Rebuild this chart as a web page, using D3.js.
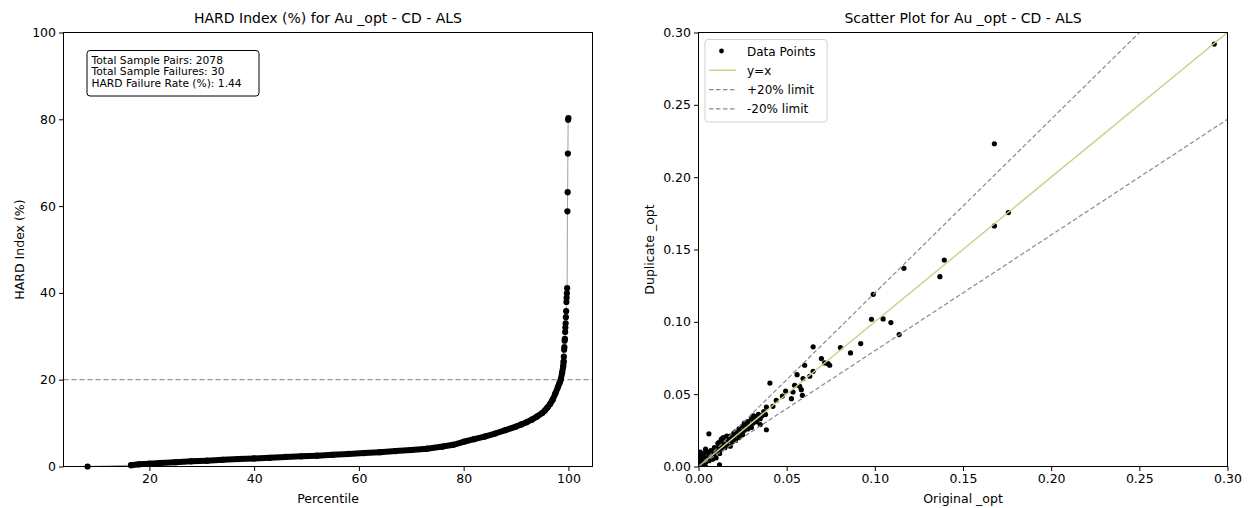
<!DOCTYPE html>
<html>
<head>
<meta charset="utf-8">
<title>HARD index and duplicate scatter</title>
<script src="https://cdn.jsdelivr.net/npm/d3@7"></script>
<style>
  html, body { margin:0; padding:0; background:#fff; overflow:hidden; }
  svg { font-family: "DejaVu Sans", sans-serif; }
</style>
</head>
<body>
<svg width="1258" height="508"></svg>
<script>
// ---- left panel: HARD index (%) against percentile
const zeroPct = [8.2];
const zeroHard = [0];
// dense sorted body of the curve
const bodyPct = [16.5, 18, 20, 22, 25, 28, 31, 34, 37, 40, 43, 46, 49, 52, 55, 58, 61, 64, 67, 70,
  73, 76, 78, 80, 82, 84, 86, 88, 90, 91, 92, 93, 94, 95, 95.5, 96, 96.5, 97, 97.5, 98,
  98.3, 98.56, 98.8, 99.0];
const bodyHard = [0.3, 0.5, 0.65, 0.8, 1.0, 1.2, 1.35, 1.55, 1.7, 1.85, 2.0, 2.2, 2.35, 2.5, 2.7, 2.9, 3.1, 3.3, 3.55, 3.8,
  4.1, 4.6, 5.0, 5.7, 6.3, 6.9, 7.6, 8.4, 9.2, 9.7, 10.2, 10.8, 11.5, 12.3, 12.9, 13.6, 14.4, 15.4, 16.8, 18.3,
  19.2, 20.1, 21.6, 23.0];
// sparse outlier tail
const tailPct = [99.09, 99.13, 99.18, 99.23, 99.28, 99.33, 99.38, 99.42, 99.47, 99.52,
  99.57, 99.62, 99.66, 99.71, 99.76, 99.81, 99.86, 99.90, 99.95, 100.0];
const tailHard = [24.2, 25.3, 26.9, 27.5, 29.0, 29.4, 31.0, 32.0, 33.0, 34.4,
  35.8, 37.9, 38.9, 39.9, 41.1, 58.8, 63.2, 72.1, 79.9, 80.3];
const statLines = ["Total Sample Pairs: 2078", "Total Sample Failures: 30", "HARD Failure Rate (%): 1.44"];
const hardLimit = 20;
const pctTicks = [20, 40, 60, 80, 100];
const hardTicks = [0, 20, 40, 60, 80, 100];

// ---- right panel: original vs duplicate
const origVals = [0.000, 0.000, 0.001, 0.001, 0.001, 0.002, 0.002, 0.002, 0.003, 0.003,
  0.003, 0.004, 0.004, 0.005, 0.005, 0.006, 0.006, 0.0059, 0.007, 0.008,
  0.008, 0.009, 0.009, 0.010, 0.010, 0.011, 0.011, 0.0119, 0.012, 0.012,
  0.013, 0.013, 0.014, 0.015, 0.015, 0.016, 0.016, 0.017, 0.018, 0.018,
  0.019, 0.020, 0.020, 0.021, 0.022, 0.023, 0.023, 0.024, 0.025, 0.025,
  0.026, 0.027, 0.028, 0.028, 0.029, 0.030, 0.030, 0.031, 0.032, 0.0318,
  0.033, 0.034, 0.035, 0.035, 0.036, 0.037, 0.038, 0.0385, 0.0385, 0.0405,
  0.0422, 0.0441, 0.0476, 0.0494, 0.0527, 0.0536, 0.0545, 0.0559, 0.0574, 0.0583,
  0.0589, 0.0593, 0.0602, 0.0631, 0.0650, 0.0650, 0.0697, 0.0716, 0.0735, 0.0744,
  0.0805, 0.0862, 0.0920, 0.0981, 0.0991, 0.1047, 0.1091, 0.1138, 0.1165, 0.1369,
  0.1394, 0.1678, 0.1678, 0.1757, 0.2925,
  0.001, 0.004, 0.007, 0.012, 0.017, 0.021, 0.026, 0.031, 0.004, 0.014];
const dupVals = [0.009, 0.007, 0.002, 0.005, 0.003, 0.001, 0.008, 0.006, 0.004, 0.009,
  0.002, 0.003, 0.000, 0.006, 0.010, 0.004, 0.008, 0.0226, 0.007, 0.005,
  0.010, 0.008, 0.013, 0.011, 0.006, 0.013, 0.016, 0.0012, 0.009, 0.015,
  0.012, 0.019, 0.016, 0.013, 0.019, 0.015, 0.021, 0.018, 0.014, 0.021,
  0.017, 0.020, 0.023, 0.018, 0.022, 0.026, 0.020, 0.024, 0.028, 0.022,
  0.025, 0.029, 0.026, 0.031, 0.028, 0.033, 0.027, 0.030, 0.034, 0.0346,
  0.031, 0.036, 0.033, 0.029, 0.035, 0.038, 0.036, 0.0254, 0.0411, 0.0577,
  0.0416, 0.0457, 0.0487, 0.0522, 0.0469, 0.0515, 0.0561, 0.0635, 0.0554, 0.0531,
  0.0492, 0.0608, 0.0700, 0.0624, 0.0658, 0.0827, 0.0746, 0.0716, 0.0711, 0.0700,
  0.0822, 0.0785, 0.0850, 0.1018, 0.1190, 0.1020, 0.0995, 0.0912, 0.1370, 0.1312,
  0.1427, 0.1663, 0.2231, 0.1755, 0.2920,
  0.010, 0.006, 0.011, 0.017, 0.020, 0.024, 0.030, 0.035, 0.012, 0.020];
const limitFactors = [1.2, 0.8];
const scatterTicks = [0, 0.05, 0.10, 0.15, 0.20, 0.25, 0.30];
const legendLabels = ["Data Points", "y=x", "+20% limit", "-20% limit"];

const svg = d3.select("svg");
const tickFont = "12.5px";

// ================= left panel =================
const xL = d3.scaleLinear().domain([3.6, 104.6]).range([63.5, 592.5]);
const yL = d3.scaleLinear().domain([0, 100]).range([466.5, 32.5]);

const left = svg.append("g");

left.append("line")
  .attr("x1", xL.range()[0]).attr("x2", xL.range()[1])
  .attr("y1", yL(hardLimit)).attr("y2", yL(hardLimit))
  .attr("stroke", "#8d9c8d").attr("stroke-width", 1.2)
  .attr("stroke-dasharray", "5,3");

const allPct = zeroPct.concat(bodyPct, tailPct);
const allHard = zeroHard.concat(bodyHard, tailHard);
const allPts = allPct.map((p, i) => [p, allHard[i]]);
const bodyPts = bodyPct.map((p, i) => [p, bodyHard[i]]);
const tailPts = tailPct.map((p, i) => [p, tailHard[i]]);

const lineL = d3.line().x(d => xL(d[0])).y(d => yL(d[1]));

// thin connecting line under the markers
left.append("path")
  .attr("d", lineL(allPts))
  .attr("fill", "none").attr("stroke", "#9aa69a").attr("stroke-width", 1);

// dense markers merge into a thick band
left.append("path")
  .attr("d", lineL(bodyPts.concat([tailPts[0]])))
  .attr("fill", "none").attr("stroke", "#000")
  .attr("stroke-width", 6).attr("stroke-linecap", "round").attr("stroke-linejoin", "round");

left.selectAll("circle.pt")
  .data(allPts)
  .enter().append("circle")
  .attr("class", "pt")
  .attr("cx", d => xL(d[0])).attr("cy", d => yL(d[1]))
  .attr("r", 3.1).attr("fill", "#000");

const axLB = left.append("g").attr("transform", `translate(0,${yL.range()[0]})`)
  .call(d3.axisBottom(xL).tickValues(pctTicks).tickSize(4.5).tickPadding(3).tickFormat(d3.format("d")));
const axLL = left.append("g").attr("transform", `translate(${xL.range()[0]},0)`)
  .call(d3.axisLeft(yL).tickValues(hardTicks).tickSize(4.5).tickPadding(3).tickFormat(d3.format("d")));
[axLB, axLL].forEach(a => {
  a.select(".domain").remove();
  a.selectAll("text").attr("font-size", tickFont).attr("fill", "#000").attr("font-family", "DejaVu Sans");
});

left.append("rect")
  .attr("x", xL.range()[0]).attr("y", yL.range()[1])
  .attr("width", xL.range()[1] - xL.range()[0]).attr("height", yL.range()[0] - yL.range()[1])
  .attr("fill", "none").attr("stroke", "#000").attr("stroke-width", 1);

// stats box
const box = left.append("g");
box.append("rect")
  .attr("x", 87).attr("y", 50.5).attr("width", 172).attr("height", 45.5)
  .attr("rx", 3).attr("fill", "#fff").attr("stroke", "#000").attr("stroke-width", 1);
box.selectAll("text")
  .data(statLines)
  .enter().append("text")
  .attr("x", 91.5).attr("y", (d, i) => 63.5 + i * 11.8)
  .attr("font-size", "10.7px").text(d => d);

left.append("text")
  .attr("x", (xL.range()[0] + xL.range()[1]) / 2).attr("y", 23)
  .attr("text-anchor", "middle").attr("font-size", "14px")
  .text("HARD Index (%) for Au _opt - CD - ALS");
left.append("text")
  .attr("x", (xL.range()[0] + xL.range()[1]) / 2).attr("y", 503)
  .attr("text-anchor", "middle").attr("font-size", tickFont)
  .text("Percentile");
left.append("text")
  .attr("transform", `translate(24,${(yL.range()[0] + yL.range()[1]) / 2}) rotate(-90)`)
  .attr("text-anchor", "middle").attr("font-size", tickFont)
  .text("HARD Index (%)");

// ================= right panel =================
const xR = d3.scaleLinear().domain([0, 0.3]).range([698.5, 1227.5]);
const yR = d3.scaleLinear().domain([0, 0.3]).range([466.5, 32.5]);

const right = svg.append("g");
right.append("clipPath").attr("id", "clipR")
  .append("rect")
  .attr("x", xR.range()[0]).attr("y", yR.range()[1])
  .attr("width", xR.range()[1] - xR.range()[0]).attr("height", yR.range()[0] - yR.range()[1]);

const plotR = right.append("g").attr("clip-path", "url(#clipR)");

plotR.selectAll("circle.sc")
  .data(origVals.map((v, i) => [v, dupVals[i]]))
  .enter().append("circle")
  .attr("class", "sc")
  .attr("cx", d => xR(d[0])).attr("cy", d => yR(d[1]))
  .attr("r", 2.6).attr("fill", "#000");

plotR.append("line")
  .attr("x1", xR(0)).attr("y1", yR(0)).attr("x2", xR(0.3)).attr("y2", yR(0.3))
  .attr("stroke", "#c3d48a").attr("stroke-width", 1.4);

plotR.selectAll("line.lim")
  .data(limitFactors)
  .enter().append("line")
  .attr("class", "lim")
  .attr("x1", xR(0)).attr("y1", yR(0)).attr("x2", xR(0.3)).attr("y2", d => yR(0.3 * d))
  .attr("stroke", "#8a8a8a").attr("stroke-width", 1.2).attr("stroke-dasharray", "4.5,2.5");

const fmt2 = d3.format(".2f");
const axRB = right.append("g").attr("transform", `translate(0,${yR.range()[0]})`)
  .call(d3.axisBottom(xR).tickValues(scatterTicks).tickSize(4.5).tickPadding(3).tickFormat(fmt2));
const axRL = right.append("g").attr("transform", `translate(${xR.range()[0]},0)`)
  .call(d3.axisLeft(yR).tickValues(scatterTicks).tickSize(4.5).tickPadding(3).tickFormat(fmt2));
[axRB, axRL].forEach(a => {
  a.select(".domain").remove();
  a.selectAll("text").attr("font-size", tickFont).attr("fill", "#000").attr("font-family", "DejaVu Sans");
});

right.append("rect")
  .attr("x", xR.range()[0]).attr("y", yR.range()[1])
  .attr("width", xR.range()[1] - xR.range()[0]).attr("height", yR.range()[0] - yR.range()[1])
  .attr("fill", "none").attr("stroke", "#000").attr("stroke-width", 1);

// legend
const leg = right.append("g");
leg.append("rect")
  .attr("x", 705).attr("y", 39.5).attr("width", 122).attr("height", 82.5)
  .attr("rx", 3).attr("fill", "#fff").attr("fill-opacity", 0.8)
  .attr("stroke", "#d0d0d0").attr("stroke-width", 1);
legendLabels.forEach((lab, i) => {
  const cy = 51 + i * 19.3;
  if (i === 0) {
    leg.append("circle").attr("cx", 721.5).attr("cy", cy).attr("r", 2.4).attr("fill", "#000");
  } else if (i === 1) {
    leg.append("line").attr("x1", 709).attr("x2", 736).attr("y1", cy).attr("y2", cy)
      .attr("stroke", "#c3d48a").attr("stroke-width", 1.4);
  } else {
    leg.append("line").attr("x1", 709).attr("x2", 736).attr("y1", cy).attr("y2", cy)
      .attr("stroke", "#8a8a8a").attr("stroke-width", 1.2).attr("stroke-dasharray", "4.5,2.5");
  }
  leg.append("text").attr("x", 747).attr("y", cy + 4.5)
    .attr("font-size", "12px").text(lab);
});

right.append("text")
  .attr("x", (xR.range()[0] + xR.range()[1]) / 2).attr("y", 23)
  .attr("text-anchor", "middle").attr("font-size", "14px")
  .text("Scatter Plot for Au _opt - CD - ALS");
right.append("text")
  .attr("x", (xR.range()[0] + xR.range()[1]) / 2).attr("y", 503)
  .attr("text-anchor", "middle").attr("font-size", tickFont)
  .text("Original _opt");
right.append("text")
  .attr("transform", `translate(654,${(yR.range()[0] + yR.range()[1]) / 2}) rotate(-90)`)
  .attr("text-anchor", "middle").attr("font-size", tickFont)
  .text("Duplicate _opt");
</script>
</body>
</html>
